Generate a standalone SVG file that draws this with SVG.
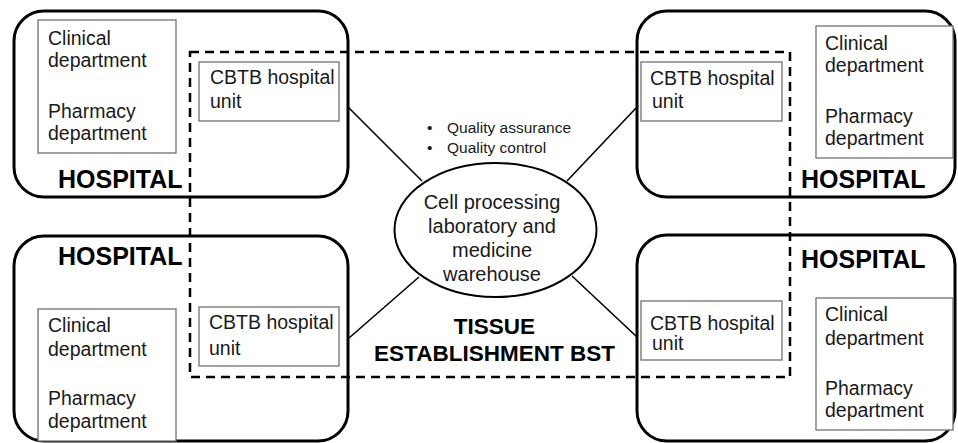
<svg xmlns="http://www.w3.org/2000/svg" width="958" height="443" viewBox="0 0 958 443">
<style>
.hosp{fill:none;stroke:#000;stroke-width:3}
.box{fill:#fff;stroke:#707070;stroke-width:1.3}
.dash{fill:none;stroke:#000;stroke-width:2.5;stroke-dasharray:9 6}
.t{font-family:"Liberation Sans",Arial,sans-serif;font-size:19.5px;fill:#1a1a1a}
.b{font-family:"Liberation Sans",Arial,sans-serif;font-size:25px;font-weight:bold;fill:#000}
.q{font-family:"Liberation Sans",Arial,sans-serif;font-size:15.5px;fill:#1a1a1a}
.e{font-family:"Liberation Sans",Arial,sans-serif;font-size:20px;fill:#1a1a1a;text-anchor:middle}
.ts{font-family:"Liberation Sans",Arial,sans-serif;font-size:22.5px;font-weight:bold;fill:#000;text-anchor:middle}
.ln{stroke:#000;stroke-width:1.6;fill:none}
</style>
<rect width="958" height="443" fill="#fff"/>
<g id="hospital-tl">
<rect class="hosp" x="14" y="11" width="334" height="186" rx="30"/>
<rect class="box" x="38" y="20" width="138" height="133"/>
<text class="t" x="48" y="45">Clinical</text>
<text class="t" x="48" y="67">department</text>
<text class="t" x="48" y="118">Pharmacy</text>
<text class="t" x="48" y="140">department</text>
<text class="b" x="58" y="188">HOSPITAL</text>
</g>
<g id="hospital-tr">
<rect class="hosp" x="637" y="11" width="318" height="186" rx="30"/>
<rect class="box" x="816" y="26" width="137" height="132"/>
<text class="t" x="825" y="50">Clinical</text>
<text class="t" x="825" y="72">department</text>
<text class="t" x="825" y="123">Pharmacy</text>
<text class="t" x="825" y="145">department</text>
<text class="b" x="801" y="188">HOSPITAL</text>
</g>
<g id="hospital-bl">
<rect class="hosp" x="14" y="236" width="334" height="205" rx="30"/>
<rect class="box" x="38" y="309" width="138" height="132"/>
<text class="t" x="48" y="332">Clinical</text>
<text class="t" x="48" y="356">department</text>
<text class="t" x="48" y="405">Pharmacy</text>
<text class="t" x="48" y="428">department</text>
<text class="b" x="58" y="265">HOSPITAL</text>
</g>
<g id="hospital-br">
<rect class="hosp" x="637" y="235" width="318" height="206" rx="30"/>
<rect class="box" x="816" y="298" width="137" height="132"/>
<text class="t" x="825" y="321">Clinical</text>
<text class="t" x="825" y="345">department</text>
<text class="t" x="825" y="395">Pharmacy</text>
<text class="t" x="825" y="417">department</text>
<text class="b" x="801" y="268">HOSPITAL</text>
</g>
<g id="tissue-establishment">
<rect class="dash" x="190" y="52" width="600" height="325"/>
<text class="ts" x="494.5" y="334">TISSUE</text>
<text class="ts" x="494.5" y="361">ESTABLISHMENT BST</text>
</g>
<g id="cbtb-tl">
<rect class="box" x="199" y="62" width="140" height="59"/>
<text class="t" x="210" y="84">CBTB hospital</text>
<text class="t" x="210" y="108">unit</text>
</g>
<g id="cbtb-tr">
<rect class="box" x="641" y="62" width="141" height="59"/>
<text class="t" x="650" y="85">CBTB hospital</text>
<text class="t" x="652" y="108">unit</text>
</g>
<g id="cbtb-bl">
<rect class="box" x="199" y="307" width="140" height="59"/>
<text class="t" x="209" y="329">CBTB hospital</text>
<text class="t" x="209" y="355">unit</text>
</g>
<g id="cbtb-br">
<rect class="box" x="641" y="301" width="141" height="59"/>
<text class="t" x="650" y="330">CBTB hospital</text>
<text class="t" x="652" y="350">unit</text>
</g>
<g id="quality">
<text class="q" x="427" y="133">•</text>
<text class="q" x="447" y="133">Quality assurance</text>
<text class="q" x="427" y="153">•</text>
<text class="q" x="447" y="153">Quality control</text>
</g>
<g id="connectors">
<line class="ln" x1="348" y1="107" x2="422" y2="181"/>
<line class="ln" x1="567" y1="181" x2="637" y2="107"/>
<line class="ln" x1="419" y1="277" x2="349" y2="338"/>
<line class="ln" x1="572" y1="276" x2="637" y2="337"/>
</g>
<g id="cell-lab">
<ellipse cx="495.5" cy="230" rx="101" ry="67" fill="#fff" stroke="#000" stroke-width="2"/>
<text class="e" x="492" y="209">Cell processing</text>
<text class="e" x="492" y="233">laboratory and</text>
<text class="e" x="492" y="257">medicine</text>
<text class="e" x="492" y="281">warehouse</text>
</g>
</svg>
